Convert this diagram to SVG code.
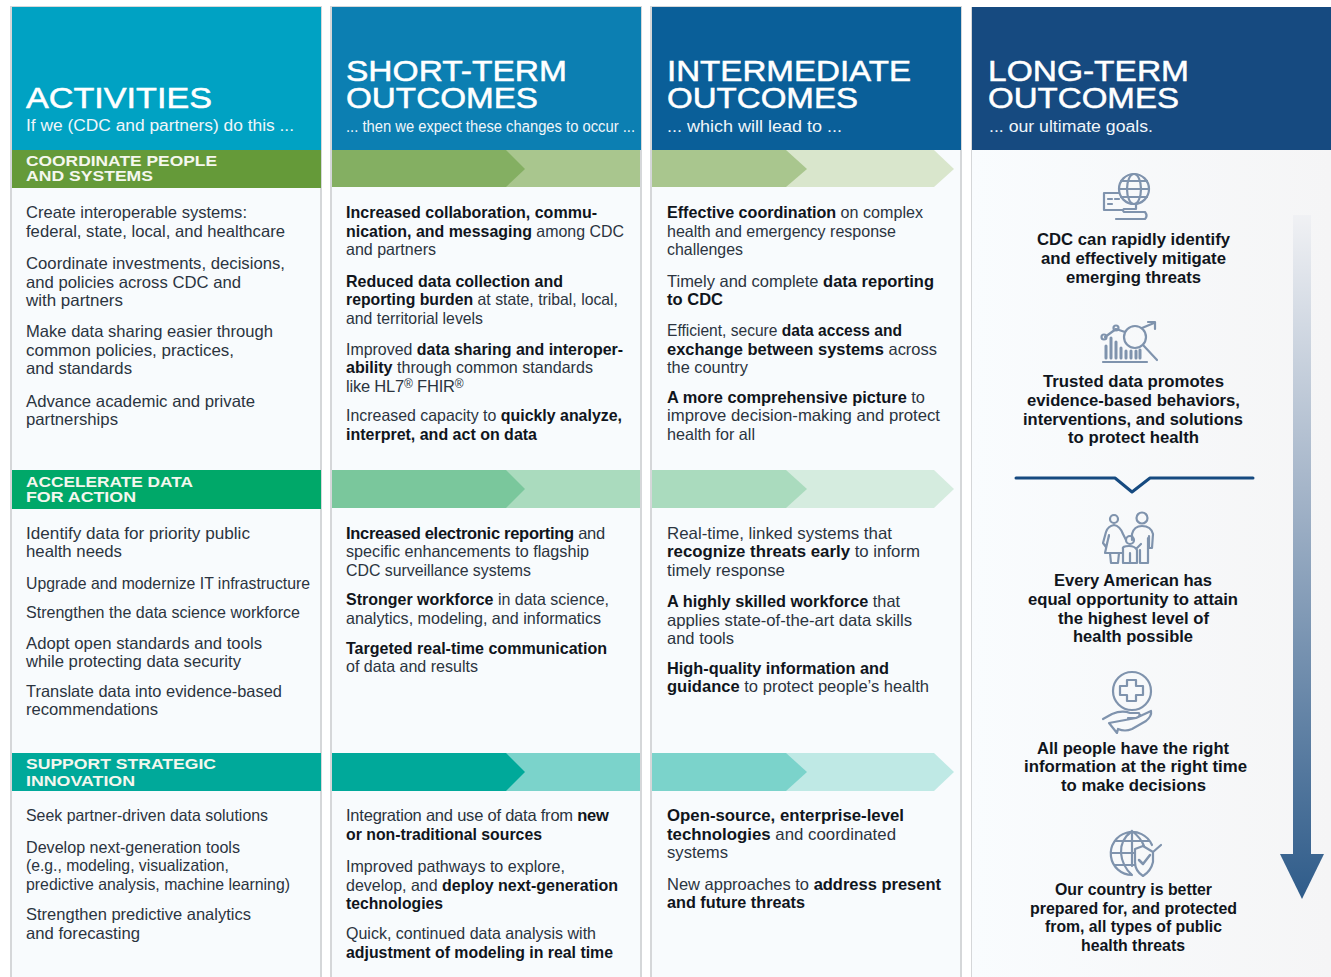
<svg xmlns="http://www.w3.org/2000/svg" width="1331" height="977" viewBox="0 0 1331 977">
<style>
text{font-family:"Liberation Sans",Arial,sans-serif}
.h{font-size:29px;fill:#fff;stroke:#fff;stroke-width:.5}
.s{font-size:16px;fill:#f0f6fa}
.b{font-size:15.500px;font-weight:700;fill:#f4f7ee}
.t{font-size:16.500px;fill:#2b3440}
.k{font-weight:700;fill:#10151c}
.g{font-size:16.500px;font-weight:700;fill:#10151c;text-anchor:middle}
.col{fill:#f8fbfd;stroke:#d5d7d9;stroke-width:2}
.i{fill:none;stroke:#7f93ad;stroke-width:2.200;stroke-linecap:round;stroke-linejoin:round}
.sup{font-size:12px}
</style>
<defs>
<linearGradient id="arrowFill" x1="0" y1="215" x2="0" y2="899" gradientUnits="userSpaceOnUse"><stop offset="0" stop-color="#f0f1f4"/><stop offset=".4" stop-color="#a5b5c9"/><stop offset="1" stop-color="#2f5c8a"/></linearGradient>
<linearGradient id="panel" x1="0" y1="0" x2="1" y2="0"><stop offset="0" stop-color="#f9fcfe"/><stop offset="1" stop-color="#f5f5f6"/></linearGradient>
</defs>
<rect width="1331" height="977" fill="#fff"/>

<g id="activities">
<rect class="col" x="11" y="7" width="310" height="972"/>
<rect x="12" y="7" width="309" height="143" fill="#00a2c3"/>
<text class="h" x="26" y="108" textLength="186" lengthAdjust="spacingAndGlyphs">ACTIVITIES</text>
<text class="s" x="26" y="131" textLength="268" lengthAdjust="spacingAndGlyphs">If we (CDC and partners) do this ...</text>
<rect x="12" y="150" width="309" height="38" fill="#659a39"/>
<text class="b" x="26" y="166" textLength="191" lengthAdjust="spacingAndGlyphs">COORDINATE PEOPLE</text><text class="b" x="26" y="181" textLength="127" lengthAdjust="spacingAndGlyphs">AND SYSTEMS</text>
<rect x="12" y="470" width="309" height="39" fill="#00a869"/>
<text class="b" x="26" y="487" textLength="167" lengthAdjust="spacingAndGlyphs">ACCELERATE DATA</text><text class="b" x="26" y="502" textLength="110" lengthAdjust="spacingAndGlyphs">FOR ACTION</text>
<rect x="12" y="753" width="309" height="38" fill="#00a99a"/>
<text class="b" x="26" y="769" textLength="190" lengthAdjust="spacingAndGlyphs">SUPPORT STRATEGIC</text><text class="b" x="26" y="786" textLength="109" lengthAdjust="spacingAndGlyphs">INNOVATION</text>
<text class="t" x="26" y="218" textLength="221" lengthAdjust="spacingAndGlyphs">Create interoperable systems:</text>
<text class="t" x="26" y="237" textLength="259" lengthAdjust="spacingAndGlyphs">federal, state, local, and healthcare</text>
<text class="t" x="26" y="269" textLength="259" lengthAdjust="spacingAndGlyphs">Coordinate investments, decisions,</text>
<text class="t" x="26" y="288" textLength="215" lengthAdjust="spacingAndGlyphs">and policies across CDC and</text>
<text class="t" x="26" y="306" textLength="97" lengthAdjust="spacingAndGlyphs">with partners</text>
<text class="t" x="26" y="337" textLength="247" lengthAdjust="spacingAndGlyphs">Make data sharing easier through</text>
<text class="t" x="26" y="356" textLength="208" lengthAdjust="spacingAndGlyphs">common policies, practices,</text>
<text class="t" x="26" y="374" textLength="106" lengthAdjust="spacingAndGlyphs">and standards</text>
<text class="t" x="26" y="407" textLength="229" lengthAdjust="spacingAndGlyphs">Advance academic and private</text>
<text class="t" x="26" y="425" textLength="92" lengthAdjust="spacingAndGlyphs">partnerships</text>
<text class="t" x="26" y="539" textLength="224" lengthAdjust="spacingAndGlyphs">Identify data for priority public</text>
<text class="t" x="26" y="557" textLength="96" lengthAdjust="spacingAndGlyphs">health needs</text>
<text class="t" x="26" y="589" textLength="284" lengthAdjust="spacingAndGlyphs">Upgrade and modernize IT infrastructure</text>
<text class="t" x="26" y="618" textLength="274" lengthAdjust="spacingAndGlyphs">Strengthen the data science workforce</text>
<text class="t" x="26" y="649" textLength="236" lengthAdjust="spacingAndGlyphs">Adopt open standards and tools</text>
<text class="t" x="26" y="667" textLength="215" lengthAdjust="spacingAndGlyphs">while protecting data security</text>
<text class="t" x="26" y="697" textLength="256" lengthAdjust="spacingAndGlyphs">Translate data into evidence-based</text>
<text class="t" x="26" y="715" textLength="132" lengthAdjust="spacingAndGlyphs">recommendations</text>
<text class="t" x="26" y="821" textLength="242" lengthAdjust="spacingAndGlyphs">Seek partner-driven data solutions</text>
<text class="t" x="26" y="853" textLength="214" lengthAdjust="spacingAndGlyphs">Develop next-generation tools</text>
<text class="t" x="26" y="871" textLength="203" lengthAdjust="spacingAndGlyphs">(e.g., modeling, visualization,</text>
<text class="t" x="26" y="890" textLength="264" lengthAdjust="spacingAndGlyphs">predictive analysis, machine learning)</text>
<text class="t" x="26" y="920" textLength="225" lengthAdjust="spacingAndGlyphs">Strengthen predictive analytics</text>
<text class="t" x="26" y="939" textLength="114" lengthAdjust="spacingAndGlyphs">and forecasting</text>
</g>

<g id="short-term">
<rect class="col" x="331" y="7" width="310" height="972"/>
<rect x="332" y="7" width="309" height="143" fill="#0c7fb2"/>
<text class="h"><tspan x="346" y="81" textLength="221" lengthAdjust="spacingAndGlyphs">SHORT-TERM</tspan><tspan x="346" y="108" textLength="192" lengthAdjust="spacingAndGlyphs">OUTCOMES</tspan></text>
<text class="s" x="346" y="132" textLength="289" lengthAdjust="spacingAndGlyphs">... then we expect these changes to occur ...</text>
<polygon points="332,150 640,150 640,187 332,187" fill="#a9c68e"/>
<polygon points="332,150 506,150 525,169 506,187 332,187" fill="#84af62"/>
<polygon points="332,470 640,470 640,508 332,508" fill="#aadbbe"/>
<polygon points="332,470 506,470 525,489 506,508 332,508" fill="#7ac79c"/>
<polygon points="332,753 640,753 640,791 332,791" fill="#7bd3cb"/>
<polygon points="332,753 506,753 525,772 506,791 332,791" fill="#00a99a"/>
<text class="t" x="346" y="218" textLength="251" lengthAdjust="spacingAndGlyphs"><tspan class="k">Increased collaboration, commu-</tspan></text>
<text class="t" x="346" y="237" textLength="278" lengthAdjust="spacingAndGlyphs"><tspan class="k">nication, and messaging</tspan> among CDC</text>
<text class="t" x="346" y="255" textLength="90" lengthAdjust="spacingAndGlyphs">and partners</text>
<text class="t" x="346" y="287" textLength="217" lengthAdjust="spacingAndGlyphs"><tspan class="k">Reduced data collection and</tspan></text>
<text class="t" x="346" y="305" textLength="272" lengthAdjust="spacingAndGlyphs"><tspan class="k">reporting burden</tspan> at state, tribal, local,</text>
<text class="t" x="346" y="324" textLength="137" lengthAdjust="spacingAndGlyphs">and territorial levels</text>
<text class="t" x="346" y="355" textLength="277" lengthAdjust="spacingAndGlyphs">Improved <tspan class="k">data sharing and interoper-</tspan></text>
<text class="t" x="346" y="373" textLength="247" lengthAdjust="spacingAndGlyphs"><tspan class="k">ability</tspan> through common standards</text>
<text class="t" x="346" y="392" letter-spacing="-.2">like HL7<tspan class="sup" dy="-4">®</tspan><tspan dy="4"> FHIR</tspan><tspan class="sup" dy="-4">®</tspan></text>
<text class="t" x="346" y="421" textLength="276" lengthAdjust="spacingAndGlyphs">Increased capacity to <tspan class="k">quickly analyze,</tspan></text>
<text class="t" x="346" y="440" textLength="191" lengthAdjust="spacingAndGlyphs"><tspan class="k">interpret, and act on data</tspan></text>
<text class="t" x="346" y="539" letter-spacing="-.29"><tspan class="k">Increased electronic reporting</tspan> and</text>
<text class="t" x="346" y="557" textLength="243" lengthAdjust="spacingAndGlyphs">specific enhancements to flagship</text>
<text class="t" x="346" y="576" textLength="185" lengthAdjust="spacingAndGlyphs">CDC surveillance systems</text>
<text class="t" x="346" y="605" textLength="263" lengthAdjust="spacingAndGlyphs"><tspan class="k">Stronger workforce</tspan> in data science,</text>
<text class="t" x="346" y="624" textLength="255" lengthAdjust="spacingAndGlyphs">analytics, modeling, and informatics</text>
<text class="t" x="346" y="654" textLength="261" lengthAdjust="spacingAndGlyphs"><tspan class="k">Targeted real-time communication</tspan></text>
<text class="t" x="346" y="672" textLength="132" lengthAdjust="spacingAndGlyphs">of data and results</text>
<text class="t" x="346" y="821" letter-spacing="-.22">Integration and use of data from <tspan class="k">new</tspan></text>
<text class="t" x="346" y="840" textLength="196" lengthAdjust="spacingAndGlyphs"><tspan class="k">or non-traditional sources</tspan></text>
<text class="t" x="346" y="872" textLength="219" lengthAdjust="spacingAndGlyphs">Improved pathways to explore,</text>
<text class="t" x="346" y="891" textLength="272" lengthAdjust="spacingAndGlyphs">develop, and <tspan class="k">deploy next-generation</tspan></text>
<text class="t" x="346" y="909" textLength="97" lengthAdjust="spacingAndGlyphs"><tspan class="k">technologies</tspan></text>
<text class="t" x="346" y="939" textLength="250" lengthAdjust="spacingAndGlyphs">Quick, continued data analysis with</text>
<text class="t" x="346" y="958" textLength="267" lengthAdjust="spacingAndGlyphs"><tspan class="k">adjustment of modeling in real time</tspan></text>
</g>

<g id="intermediate">
<rect class="col" x="651" y="7" width="310" height="972"/>
<rect x="652" y="7" width="309" height="143" fill="#0a5f99"/>
<text class="h"><tspan x="667" y="81" textLength="244" lengthAdjust="spacingAndGlyphs">INTERMEDIATE</tspan><tspan x="667" y="108" textLength="191" lengthAdjust="spacingAndGlyphs">OUTCOMES</tspan></text>
<text class="s" x="667" y="132" textLength="175" lengthAdjust="spacingAndGlyphs">... which will lead to ...</text>
<polygon points="652,150 934,150 954,169 934,187 652,187" fill="#d9e6cc"/>
<polygon points="652,150 786,150 807,169 786,187 652,187" fill="#a9c68e"/>
<polygon points="652,470 934,470 954,489 934,508 652,508" fill="#d5ecdf"/>
<polygon points="652,470 786,470 807,489 786,508 652,508" fill="#aadbbe"/>
<polygon points="652,753 934,753 954,772 934,791 652,791" fill="#bfe9e5"/>
<polygon points="652,753 786,753 807,772 786,791 652,791" fill="#7bd3cb"/>
<text class="t" x="667" y="218" textLength="256" lengthAdjust="spacingAndGlyphs"><tspan class="k">Effective coordination</tspan> on complex</text>
<text class="t" x="667" y="237" textLength="229" lengthAdjust="spacingAndGlyphs">health and emergency response</text>
<text class="t" x="667" y="255" textLength="76" lengthAdjust="spacingAndGlyphs">challenges</text>
<text class="t" x="667" y="287" textLength="267" lengthAdjust="spacingAndGlyphs">Timely and complete <tspan class="k">data reporting</tspan></text>
<text class="t" x="667" y="305" textLength="56" lengthAdjust="spacingAndGlyphs"><tspan class="k">to CDC</tspan></text>
<text class="t" x="667" y="336" textLength="235" lengthAdjust="spacingAndGlyphs">Efficient, secure <tspan class="k">data access and</tspan></text>
<text class="t" x="667" y="355" textLength="270" lengthAdjust="spacingAndGlyphs"><tspan class="k">exchange between systems</tspan> across</text>
<text class="t" x="667" y="373" textLength="81" lengthAdjust="spacingAndGlyphs">the country</text>
<text class="t" x="667" y="403" textLength="258" lengthAdjust="spacingAndGlyphs"><tspan class="k">A more comprehensive picture</tspan> to</text>
<text class="t" x="667" y="421" textLength="273" lengthAdjust="spacingAndGlyphs">improve decision-making and protect</text>
<text class="t" x="667" y="440" textLength="88" lengthAdjust="spacingAndGlyphs">health for all</text>
<text class="t" x="667" y="539" textLength="225" lengthAdjust="spacingAndGlyphs">Real-time, linked systems that</text>
<text class="t" x="667" y="557" textLength="253" lengthAdjust="spacingAndGlyphs"><tspan class="k">recognize threats early</tspan> to inform</text>
<text class="t" x="667" y="576" textLength="118" lengthAdjust="spacingAndGlyphs">timely response</text>
<text class="t" x="667" y="607" textLength="233" lengthAdjust="spacingAndGlyphs"><tspan class="k">A highly skilled workforce</tspan> that</text>
<text class="t" x="667" y="626" textLength="245" lengthAdjust="spacingAndGlyphs">applies state-of-the-art data skills</text>
<text class="t" x="667" y="644" textLength="67" lengthAdjust="spacingAndGlyphs">and tools</text>
<text class="t" x="667" y="674" textLength="222" lengthAdjust="spacingAndGlyphs"><tspan class="k">High-quality information and</tspan></text>
<text class="t" x="667" y="692" textLength="262" lengthAdjust="spacingAndGlyphs"><tspan class="k">guidance</tspan> to protect people’s health</text>
<text class="t" x="667" y="821" textLength="237" lengthAdjust="spacingAndGlyphs"><tspan class="k">Open-source, enterprise-level</tspan></text>
<text class="t" x="667" y="840" textLength="229" lengthAdjust="spacingAndGlyphs"><tspan class="k">technologies</tspan> and coordinated</text>
<text class="t" x="667" y="858" textLength="61" lengthAdjust="spacingAndGlyphs">systems</text>
<text class="t" x="667" y="890" textLength="274" lengthAdjust="spacingAndGlyphs">New approaches to <tspan class="k">address present</tspan></text>
<text class="t" x="667" y="908" textLength="138" lengthAdjust="spacingAndGlyphs"><tspan class="k">and future threats</tspan></text>
</g>

<g id="long-term">
<rect x="972" y="7" width="359" height="970" fill="url(#panel)"/>
<rect x="971" y="7" width="1" height="970" fill="#d5d7d9"/>
<rect x="972" y="7" width="359" height="143" fill="#164a80"/>
<text class="h"><tspan x="988" y="81" textLength="201" lengthAdjust="spacingAndGlyphs">LONG-TERM</tspan><tspan x="988" y="108" textLength="191" lengthAdjust="spacingAndGlyphs">OUTCOMES</tspan></text>
<text class="s" x="989" y="132" textLength="164" lengthAdjust="spacingAndGlyphs">... our ultimate goals.</text>
<rect x="1293" y="215" width="18" height="640" fill="url(#arrowFill)"/>
<polygon points="1280,854 1324,854 1302,899" fill="url(#arrowFill)"/>
<path d="M1016,478H1115L1132,492L1150,478H1253" fill="none" stroke="#164a80" stroke-width="3" stroke-linecap="round" stroke-linejoin="round"/>
</g>

<g id="goal-1">
<g class="i"><circle cx="1134" cy="189" r="15"/><ellipse cx="1134" cy="189" rx="7" ry="15"/><path d="M1119,189H1149M1121,181H1147M1121,197H1147M1119,193H1104V210H1122M1108,199H1112M1115,199H1119M1108,204H1112M1136,205V209H1124Q1122,210 1124,212H1145Q1148,216 1145,219H1116"/></g>
<text class="g" x="1133.500" y="245" textLength="193" lengthAdjust="spacingAndGlyphs">CDC can rapidly identify</text>
<text class="g" x="1133.500" y="264" textLength="185" lengthAdjust="spacingAndGlyphs">and effectively mitigate</text>
<text class="g" x="1133.500" y="283" textLength="135" lengthAdjust="spacingAndGlyphs">emerging threats</text>
</g>
<g id="goal-2">
<g class="i"><circle cx="1135" cy="337" r="11"/><path d="M1105,337L1116,329L1125,332M1142,328L1154,323M1148,322H1155V329M1143,345L1157,360M1103,362H1147"/><circle cx="1104" cy="337" r="2.500"/><circle cx="1116" cy="328" r="2.500"/><path stroke-width="3" d="M1106,358V346M1111,358V338M1116,358V342M1121,358V348M1126,358V351M1131,358V351M1136,358V351M1140,358V350"/></g>
<text class="g" x="1133.500" y="387" textLength="181" lengthAdjust="spacingAndGlyphs">Trusted data promotes</text>
<text class="g" x="1133.500" y="406" textLength="213" lengthAdjust="spacingAndGlyphs">evidence-based behaviors,</text>
<text class="g" x="1133" y="425" textLength="220" lengthAdjust="spacingAndGlyphs">interventions, and solutions</text>
<text class="g" x="1133.500" y="443" textLength="131" lengthAdjust="spacingAndGlyphs">to protect health</text>
</g>
<g id="goal-3">
<g class="i"><circle cx="1114" cy="519" r="4"/><circle cx="1142" cy="518" r="5.500"/><path d="M1114,525Q1108,526 1106,532L1103,543L1106,547L1109,536M1114,525Q1120,526 1123,534L1126,540M1109,535L1105,553H1122M1110,553L1111,563H1118L1119,553M1132,540V534Q1134,526 1142,526Q1151,526 1153,534L1152,548L1149,548V536M1148,538V563H1140V550M1136,563H1123V549Q1122,546 1129,546Q1135,546 1137,550V563M1130,553V563M1137,548L1141,544"/><circle cx="1130" cy="540" r="4"/></g>
<text class="g" x="1133" y="586" textLength="158" lengthAdjust="spacingAndGlyphs">Every American has</text>
<text class="g" x="1133" y="605" textLength="210" lengthAdjust="spacingAndGlyphs">equal opportunity to attain</text>
<text class="g" x="1133.500" y="624" textLength="151" lengthAdjust="spacingAndGlyphs">the highest level of</text>
<text class="g" x="1133" y="642" textLength="120" lengthAdjust="spacingAndGlyphs">health possible</text>
</g>
<g id="goal-4">
<g class="i"><circle cx="1132" cy="691" r="19"/><path d="M1127,680H1136V686H1143V695H1136V701H1127V695H1120V686H1127Z"/><path d="M1103,719L1112,714Q1122,710 1130,713H1139Q1141,716 1136,718H1128M1136,718L1151,711Q1152,716 1146,721L1132,729Q1125,732 1118,729L1117,733L1109,723Z"/></g>
<text class="g" x="1133" y="754" textLength="192" lengthAdjust="spacingAndGlyphs">All people have the right</text>
<text class="g" x="1135.500" y="772" textLength="223" lengthAdjust="spacingAndGlyphs">information at the right time</text>
<text class="g" x="1133.500" y="791" textLength="145" lengthAdjust="spacingAndGlyphs">to make decisions</text>
</g>
<g id="goal-5">
<g class="i"><path d="M1132,875A21.500,21.500 0 1 1 1152,845M1132,831V866M1132,831Q1120,840 1121,853Q1122,866 1132,875M1132,831Q1141,838 1144,846M1111,853H1135M1115,841H1149M1115,865H1135"/><path d="M1135,849L1143,846L1153,852L1161,845M1153,852V862Q1151,871 1143,876Q1135,871 1135,862V849"/><path stroke-width="2.500" d="M1139,860L1143,864L1150,855"/></g>
<text class="g" x="1133.500" y="895" textLength="157" lengthAdjust="spacingAndGlyphs">Our country is better</text>
<text class="g" x="1133.500" y="914" textLength="207" lengthAdjust="spacingAndGlyphs">prepared for, and protected</text>
<text class="g" x="1133.500" y="932" textLength="177" lengthAdjust="spacingAndGlyphs">from, all types of public</text>
<text class="g" x="1133" y="951" textLength="104" lengthAdjust="spacingAndGlyphs">health threats</text>
</g>
</svg>
